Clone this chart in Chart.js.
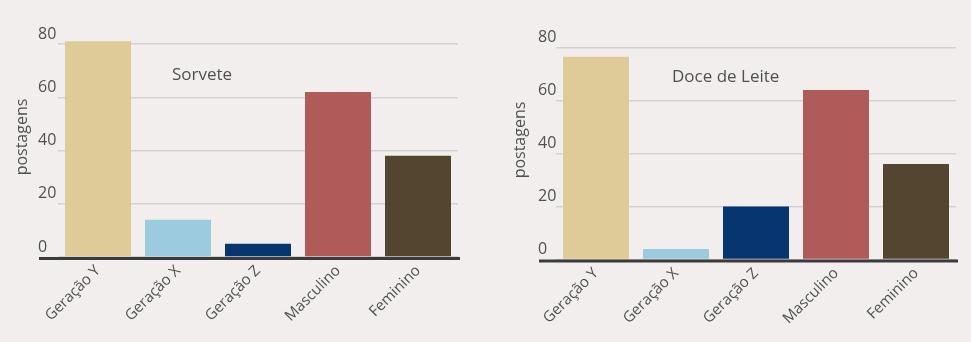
<!DOCTYPE html>
<html><head><meta charset="utf-8">
<script src="https://cdn.jsdelivr.net/npm/chart.js@4"></script>
<style>
html,body{margin:0;padding:0;background:#f2eeee;width:971px;height:342px;overflow:hidden}
.wrap{position:absolute;top:0;width:471px;height:342px}
</style></head><body>
<div class="wrap" style="left:0"><canvas id="c1"></canvas></div>
<div class="wrap" style="left:500px"><canvas id="c2"></canvas></div>
<script>
const categories = ['Geração Y','Geração X','Geração Z','Masculino','Feminino'];
const sorveteValues = [81, 14, 5, 62, 38];
const doceDeLeiteValues = [76.5, 4, 20, 64, 36];
const yTickValues = [0, 20, 40, 60, 80];
const barColors = ['#dfcb98','#9ccbe0','#07356f','#b05a5a','#53452f'];
const chartTitles = ['Sorvete', 'Doce de Leite'];
const yAxisTitle = 'postagens';

const FONT = '"Open Sans", "Noto Sans", sans-serif';
const TEXT = '#505050';

const decor = {
  id: 'decor',
  afterDraw(chart, args, o) {
    const ctx = chart.ctx, a = chart.chartArea;
    ctx.save();
    ctx.strokeStyle = '#3b3b3b'; ctx.lineWidth = 3;
    ctx.beginPath(); ctx.moveTo(o.axisFrom, a.bottom + 1.5); ctx.lineTo(a.right + 2, a.bottom + 1.5); ctx.stroke();
    ctx.fillStyle = TEXT; ctx.font = '17px ' + FONT; ctx.textBaseline = 'middle'; ctx.textAlign = 'left';
    ctx.fillText(o.title, o.titleX, o.titleY);
    ctx.translate(o.yTitleX, o.yTitleY); ctx.rotate(-Math.PI / 2);
    ctx.textAlign = 'center'; ctx.font = '16px ' + FONT;
    ctx.fillText(yAxisTitle, 0, 0);
    ctx.restore();
  }
};

function build(id, values, title, L) {
  return new Chart(document.getElementById(id), {
    type: 'bar',
    data: { labels: categories, datasets: [{ data: values, backgroundColor: barColors, borderWidth: 0, barPercentage: 0.825, categoryPercentage: 1, clip: false }] },
    options: {
      responsive: true, maintainAspectRatio: false, animation: false,
      layout: { padding: { left: L.labelX, top: L.top, right: L.right, bottom: 0 } },
      plugins: {
        legend: { display: false }, tooltip: { enabled: false },
        decor: { title: title, titleX: 172, titleY: L.titleY, axisFrom: L.labelX + 1, yTitleX: L.yTitleX, yTitleY: L.yTitleY }
      },
      scales: {
        x: {
          grid: { display: false, drawTicks: false }, border: { display: false },
          ticks: { color: TEXT, font: { family: FONT, size: 15 }, minRotation: 45, maxRotation: 45, autoSkip: false, padding: 5 },
          afterFit(s) { s.height = L.xHeight; }
        },
        y: {
          min: 0, max: 80,
          afterBuildTicks(s) { s.ticks = yTickValues.map(v => ({ value: v })); },
          grid: { color: '#d5d1d1', lineWidth: 1.5, drawTicks: false }, border: { display: false },
          ticks: { color: TEXT, font: { family: FONT, size: 16 }, crossAlign: 'far', labelOffset: -10, padding: 0 },
          afterFit(s) { s.width = L.yWidth; }
        }
      }
    },
    plugins: [decor]
  });
}

build('c1', sorveteValues, chartTitles[0], { labelX: 38, yWidth: 20, top: 44, right: 13, xHeight: 85, titleY: 75, yTitleX: 22, yTitleY: 137 });
build('c2', doceDeLeiteValues, chartTitles[1], { labelX: 38, yWidth: 18, top: 47.5, right: 15, xHeight: 82.5, titleY: 77, yTitleX: 20, yTitleY: 140 });
</script>
</body></html>
